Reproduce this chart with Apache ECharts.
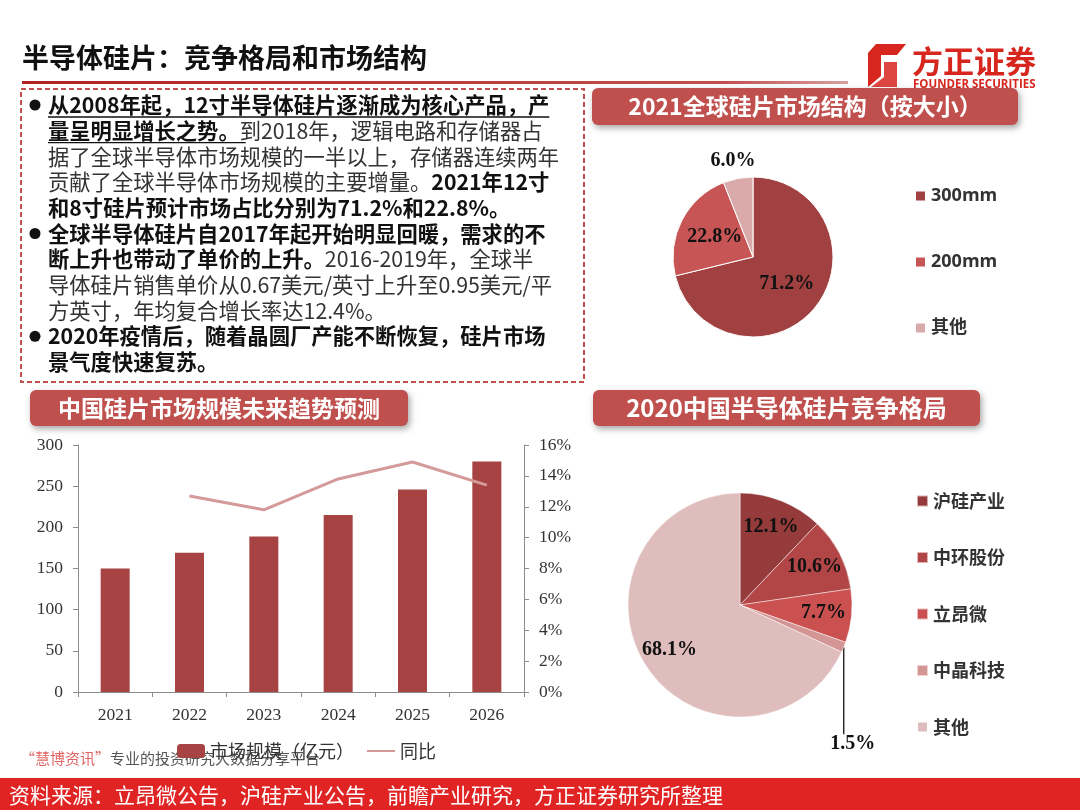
<!DOCTYPE html>
<html><head><meta charset="utf-8">
<script src="https://cdn.jsdelivr.net/npm/echarts@6/dist/echarts.min.js"></script>
<style>html,body{margin:0;padding:0;background:#fff}#c{width:1080px;height:810px}</style>
</head><body><div id="c"></div>
<script>
// ---------- data ----------
const years = ['2021','2022','2023','2024','2025','2026'];
const marketSize = [150, 169, 189, 215, 246, 280];          // 亿元
const yoyPct = [null, 12.7, 11.8, 13.8, 14.9, 13.4];        // %
const sizeNames = ['300mm', '200mm', '其他'];
const sizeShares = [71.2, 22.8, 6.0];
const companyNames = ['沪硅产业', '中环股份', '立昂微', '中晶科技', '其他'];
const companyShares = [12.1, 10.6, 7.7, 1.5, 68.1];
const barLegendNames = ['市场规模（亿元）', '同比'];

const titleText = '半导体硅片：竞争格局和市场结构';
const header1 = '2021全球硅片市场结构（按大小）';
const header2 = '中国硅片市场规模未来趋势预测';
const header3 = '2020中国半导体硅片竞争格局';
const sourceText = '资料来源：立昂微公告，沪硅产业公告，前瞻产业研究，方正证券研究所整理';
// text box lines: [style, text] segments; b = bold, n = normal
const boxLines = [
  [['b','从2008年起，12寸半导体硅片逐渐成为核心产品，产']],
  [['b','量呈明显增长之势。'],['n','到2018年，逻辑电路和存储器占']],
  [['n','据了全球半导体市场规模的一半以上，存储器连续两年']],
  [['n','贡献了全球半导体市场规模的主要增量。'],['b','2021年12寸']],
  [['b','和8寸硅片预计市场占比分别为71.2%和22.8%。']],
  [['b','全球半导体硅片自2017年起开始明显回暖，需求的不']],
  [['b','断上升也带动了单价的上升。'],['n','2016-2019年，全球半']],
  [['n','导体硅片销售单价从0.67美元/英寸上升至0.95美元/平']],
  [['n','方英寸，年均复合增长率达12.4%。']],
  [['b','2020年疫情后，随着晶圆厂产能不断恢复，硅片市场']],
  [['b','景气度快速复苏。']]
];
const bulletLines = [0, 5, 9];

// ---------- layout / style ----------
const CJK = '"Noto Sans CJK SC", "Noto Sans", sans-serif';
const SERIF = '"Liberation Serif", "Times New Roman", serif';
const C1 = [753, 257], R1 = 80;
const C2 = [740, 605], R2 = 112;
const headerColor = '#C0504D';
const sizeColors = ['#A04040', '#C85555', '#DAAAAA'];
const companyColors = ['#953B3B', '#B24646', '#CB5151', '#D49595', '#DFBDBD'];

const chart = echarts.init(document.getElementById('c'), null, {renderer: 'canvas'});

// measure helper for underlines
const mctx = document.createElement('canvas').getContext('2d');
function textW(str, font) { mctx.font = font; return mctx.measureText(str).width; }

const graphics = [];
// title
graphics.push({type:'text', x:22, y:58, style:{text:titleText, font:'bold 27px ' + CJK, fill:'#111', verticalAlign:'middle'}});
graphics.push({type:'rect', shape:{x:22, y:81, width:826, height:3},
  style:{fill:new echarts.graphic.LinearGradient(0,0,1,0,[{offset:0,color:'#B22222'},{offset:0.85,color:'#C0504D'},{offset:1,color:'#D8A0A0'}])}});
// logo
graphics.push({type:'polygon', shape:{points:[[876,44],[906,44],[897,55],[881,55],[881,76],[868,87],[868,53]]}, style:{fill:'#D7261E'}});
graphics.push({type:'polygon', shape:{points:[[884,62],[897,62],[897,87],[871,87],[884,77]]}, style:{fill:'#D7261E', opacity:0.85}});
graphics.push({type:'text', x:912, y:61, style:{text:'方正证券', font:'bold 31px ' + CJK, fill:'#D7261E', verticalAlign:'middle'}});
graphics.push({type:'text', x:913, y:85, style:{text:'FOUNDER SECURITIES', font:'bold 11.5px "Open Sans", sans-serif', fill:'#D7261E', verticalAlign:'middle'}});
// dashed text box
graphics.push({type:'rect', shape:{x:21, y:89, width:563, height:293}, style:{fill:'none', stroke:headerColor, lineWidth:2, lineDash:[5,3]}});
const BOX_FONT = 21.3, LINE0 = 105, LSTEP = 25.7, TX = 48;
const rich = {
  b:{fontSize:BOX_FONT, fontWeight:'bold', fontFamily:CJK, fill:'#111', color:'#111'},
  n:{fontSize:BOX_FONT, fontWeight:'normal', fontFamily:CJK, fill:'#333', color:'#333'}
};
boxLines.forEach((segs, i) => {
  const y = LINE0 + i * LSTEP;
  const txt = segs.map(s => '{' + s[0] + '|' + s[1] + '}').join('');
  graphics.push({type:'text', x:TX, y:y, style:{text:txt, rich:rich, verticalAlign:'middle', font:BOX_FONT + 'px ' + CJK}});
  if (bulletLines.indexOf(i) >= 0) {
    graphics.push({type:'circle', shape:{cx:35, cy:y, r:5.5}, style:{fill:'#111'}});
  }
});
// underlines for first bold sentence
const bFont = 'bold ' + BOX_FONT + 'px ' + CJK;
const ul1 = textW(boxLines[0][0][1], bFont);
const ul2 = textW(boxLines[1][0][1], bFont);
graphics.push({type:'line', shape:{x1:TX, y1:LINE0 + 12, x2:TX + ul1, y2:LINE0 + 12}, style:{stroke:'#111', lineWidth:1.3}});
graphics.push({type:'line', shape:{x1:TX, y1:LINE0 + LSTEP + 12, x2:TX + ul2 + 6, y2:LINE0 + LSTEP + 12}, style:{stroke:'#111', lineWidth:1.3}});

// header boxes
function header(x, y, w, h, text, fs) {
  graphics.push({type:'rect', shape:{x:x, y:y, width:w, height:h, r:6},
    style:{fill:headerColor, shadowBlur:6, shadowOffsetX:2, shadowOffsetY:3, shadowColor:'rgba(0,0,0,0.35)'}});
  graphics.push({type:'text', x:x + w / 2, y:y + h / 2, style:{text:text, font:'bold ' + fs + 'px ' + CJK, fill:'#fff', align:'center', verticalAlign:'middle'}});
}
header(592, 88, 426, 37, header1, 23);
header(30, 390, 378, 36, header2, 23);
header(593, 390, 387, 36, header3, 24);

// watermark line
graphics.push({type:'text', x:20, y:758, style:{text:'{r|“慧博资讯”}{g|专业的投资研究大数据分享平台}', verticalAlign:'middle',
  rich:{r:{fontSize:15, fontFamily:CJK, fill:'#E06666', color:'#E06666'}, g:{fontSize:15, fontFamily:CJK, fill:'#555', color:'#555'}}}});
// footer
graphics.push({type:'rect', shape:{x:0, y:778, width:1080, height:32}, style:{fill:'#E02424'}});
graphics.push({type:'text', x:9, y:795, style:{text:sourceText, font:'21px ' + CJK, fill:'#fff', verticalAlign:'middle'}});

const pct1 = p => p.value.toFixed(1) + '%';

const option = {
  backgroundColor:'#fff',
  animation:false,
  graphic:graphics,
  grid:{left:78, right:556, top:445, bottom:118},
  xAxis:{type:'category', data:years,
    axisLine:{lineStyle:{color:'#8c8c8c', width:1}},
    axisTick:{show:true, length:5, lineStyle:{color:'#8c8c8c'}},
    axisLabel:{fontFamily:SERIF, fontSize:17.5, color:'#333', margin:14}},
  yAxis:[
    {type:'value', min:0, max:300, interval:50,
      axisLine:{show:true, lineStyle:{color:'#8c8c8c'}},
      axisTick:{show:true, length:5, lineStyle:{color:'#8c8c8c'}},
      splitLine:{show:false},
      axisLabel:{fontFamily:SERIF, fontSize:17.5, color:'#333', margin:15}},
    {type:'value', min:0, max:16, interval:2, position:'right',
      axisLine:{show:true, lineStyle:{color:'#8c8c8c'}},
      axisTick:{show:true, length:5, lineStyle:{color:'#8c8c8c'}},
      splitLine:{show:false},
      axisLabel:{fontFamily:SERIF, fontSize:17.5, color:'#333', margin:15, formatter:'{value}%'}}
  ],
  legend:[
    {data:[barLegendNames[0], {name:barLegendNames[1], itemStyle:{opacity:0}}],
      left:172, top:737, itemWidth:28, itemHeight:14, itemGap:12,
      textStyle:{fontFamily:CJK, fontSize:18, color:'#333'}},
    {data:sizeNames, orient:'vertical', left:909, top:182, itemWidth:11, itemHeight:11, itemGap:48, icon:'rect',
      textStyle:{fontFamily:'"Open Sans", ' + CJK, fontSize:18, fontWeight:'bold', color:'#333'}},
    {data:companyNames.map((n, i) => i === companyNames.length - 1 ? {name:n, itemStyle:{color:companyColors[i]}} : n),
      orient:'vertical', left:911, top:487, itemWidth:11, itemHeight:11, itemGap:38.5, icon:'rect',
      textStyle:{fontFamily:CJK, fontSize:18, fontWeight:'bold', color:'#333'}}
  ],
  series:[
    {name:barLegendNames[0], type:'bar', data:marketSize, barWidth:29, itemStyle:{color:'#A84343'}},
    {name:barLegendNames[1], type:'line', yAxisIndex:1, data:yoyPct, symbol:'none',
      lineStyle:{color:'#D49A9A', width:3}, itemStyle:{color:'#D49A9A'}},
    {name:'size', type:'pie', center:C1, radius:R1, startAngle:90, clockwise:true,
      itemStyle:{borderColor:'#fff', borderWidth:1},
      label:{position:'inside', formatter:pct1, fontFamily:SERIF, fontWeight:'bold', fontSize:20, color:'#111'},
      labelLine:{show:false},
      labelLayout:function(p){
        if (p.dataIndex === 2) {
          return {x:C1[0] - 20, y:C1[1] - R1 - 16, align:'center', verticalAlign:'middle'};
        }
      },
      data:sizeNames.map((n, i) => ({name:n, value:sizeShares[i], itemStyle:{color:sizeColors[i]}}))},
    {name:'company', type:'pie', center:C2, radius:R2, startAngle:90, clockwise:true,
      itemStyle:{borderColor:'rgba(255,255,255,0.6)', borderWidth:0.8},
      label:{position:'inside', formatter:pct1, fontFamily:SERIF, fontWeight:'bold', fontSize:20, color:'#111'},
      labelLine:{show:false},
      labelLayout:function(p){
        if (p.dataIndex === 3) {
          const pts = p.labelLinePoints;
          if (!pts) return;
          const s = pts[0];
          return {x:s[0] + 9, y:s[1] + 97, align:'center', verticalAlign:'middle',
            labelLinePoints:[[s[0], s[1]], [s[0], s[1] + 44], [s[0], s[1] + 87]]};
        }
        const r = p.labelRect;
        const lx = r.x + r.width / 2, ly = r.y + r.height / 2;
        const k = 0.42;
        return {dx:(lx - C2[0]) * k, dy:(ly - C2[1]) * k};
      },
      data:companyNames.map((n, i) => {
        const d = {name:n, value:companyShares[i], itemStyle:{color:companyColors[i]}};
        if (i === 3) {
          d.label = {position:'outside'};
          d.labelLine = {show:true, length:20, length2:20, lineStyle:{color:'#111', width:1.3}};
        }
        return d;
      })}
  ]
};
chart.setOption(option);
</script>
</body></html>
